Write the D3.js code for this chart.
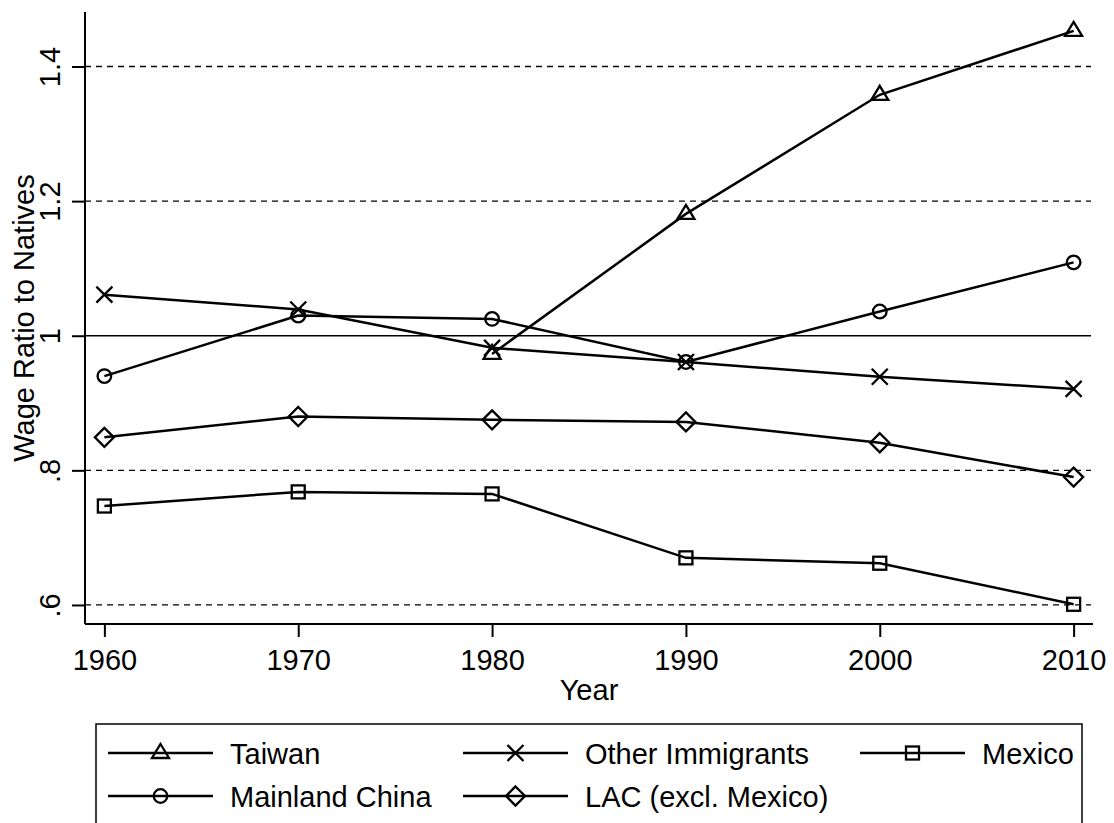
<!DOCTYPE html>
<html><head><meta charset="utf-8">
<script src="https://cdn.jsdelivr.net/npm/d3@7"></script>
<style>body{margin:0;background:#fff}svg{display:block}text{font-family:"Liberation Sans",Arial,sans-serif;fill:#000}</style>
</head><body><svg id="c" width="1114" height="823"></svg>
<script>
const years = [1960, 1970, 1980, 1990, 2000, 2010];
const taiwan = [null, null, 0.973, 1.181, 1.358, 1.453];
const otherImm = [1.061, 1.039, 0.982, 0.961, 0.939, 0.921];
const mexico = [0.747, 0.768, 0.765, 0.670, 0.662, 0.601];
const mainland = [0.940, 1.030, 1.025, 0.961, 1.036, 1.109];
const lac = [0.849, 0.880, 0.875, 0.872, 0.841, 0.790];
const yTicks = [0.6, 0.8, 1.0, 1.2, 1.4];
const yTickLabels = [".6", ".8", "1", "1.2", "1.4"];
const seriesNames = ["Taiwan", "Other Immigrants", "Mexico", "Mainland China", "LAC (excl. Mexico)"];
const seriesValues = [taiwan, otherImm, mexico, mainland, lac];
const seriesMarkers = ["triangle", "x", "square", "circle", "diamond"];

const svg = d3.select("#c");
const L = 85, R = 1093, T = 12, B = 624;
const x = d3.scaleLinear().domain([1959, 2011]).range([L, R]);
const y = d3.scaleLinear().domain([0.5717, 1.481]).range([B, T]);
const FS = 29;

// gridlines
yTicks.forEach(v => {
  svg.append("line").attr("x1", L).attr("x2", R - 2).attr("y1", y(v)).attr("y2", y(v))
    .attr("stroke", "#000").attr("stroke-width", 1.3)
    .attr("stroke-dasharray", v === 1.0 ? null : "6,5");
});

// axes
const yAxis = d3.axisLeft(y).tickValues(yTicks).tickSize(13).tickFormat((d, i) => yTickLabels[i]);
const gy = svg.append("g").attr("transform", `translate(${L},0)`).call(yAxis);
gy.select(".domain").attr("d", `M0,${T}V${B}`).attr("stroke", "#000").attr("stroke-width", 2);
gy.selectAll(".tick line").attr("stroke", "#000").attr("stroke-width", 2);
gy.selectAll(".tick text").attr("font-size", FS).attr("font-family", "Liberation Sans, Arial, sans-serif")
  .attr("text-anchor", "middle").attr("x", null).attr("dy", null)
  .attr("transform", "translate(-25,0) rotate(-90)").attr("y", 0);

const xAxis = d3.axisBottom(x).tickValues(years).tickSize(13).tickFormat(d3.format("d"));
const gx = svg.append("g").attr("transform", `translate(0,${B})`).call(xAxis);
gx.select(".domain").attr("d", `M${L},0H${R}`).attr("stroke", "#000").attr("stroke-width", 2);
gx.selectAll(".tick line").attr("stroke", "#000").attr("stroke-width", 2);
gx.selectAll(".tick text").attr("font-size", FS).attr("font-family", "Liberation Sans, Arial, sans-serif")
  .attr("y", 46).attr("dy", null);

// axis titles
svg.append("text").attr("x", L + (R - L) / 2).attr("y", 700).attr("text-anchor", "middle")
  .attr("font-size", FS).text("Year");
svg.append("text").attr("transform", `translate(34,${(T + B) / 2}) rotate(-90)`)
  .attr("text-anchor", "middle").attr("font-size", FS).text("Wage Ratio to Natives");

// marker drawing
function marker(g, type, cx, cy) {
  const st = {fill: "none", stroke: "#000", "stroke-width": 2.3};
  let el;
  if (type === "triangle") {
    el = g.append("path").attr("d", `M${cx},${cy - 9}L${cx + 8.5},${cy + 5}L${cx - 8.5},${cy + 5}Z`);
  } else if (type === "x") {
    el = g.append("path").attr("d", `M${cx - 8},${cy - 8}L${cx + 8},${cy + 8}M${cx - 8},${cy + 8}L${cx + 8},${cy - 8}`);
  } else if (type === "square") {
    el = g.append("rect").attr("x", cx - 6.5).attr("y", cy - 6.5).attr("width", 13).attr("height", 13);
  } else if (type === "circle") {
    el = g.append("circle").attr("cx", cx).attr("cy", cy).attr("r", 6.8);
  } else {
    el = g.append("path").attr("d", `M${cx},${cy - 9.5}L${cx + 9.5},${cy}L${cx},${cy + 9.5}L${cx - 9.5},${cy}Z`);
  }
  Object.entries(st).forEach(([k, v]) => el.attr(k, v));
}

// series
const line = d3.line().defined(d => d[1] != null).x(d => x(d[0])).y(d => y(d[1]));
seriesValues.forEach((vals, i) => {
  const pts = years.map((yr, j) => [yr, vals[j]]);
  const g = svg.append("g");
  g.append("path").attr("d", line(pts)).attr("fill", "none").attr("stroke", "#000").attr("stroke-width", 2.5);
  pts.filter(p => p[1] != null).forEach(p => marker(g, seriesMarkers[i], x(p[0]), y(p[1])));
});

// legend
const lg = svg.append("g");
lg.append("rect").attr("x", 96).attr("y", 724).attr("width", 1082 - 96).attr("height", 140)
  .attr("fill", "none").attr("stroke", "#000").attr("stroke-width", 1.5);
const colLineX = [108, 463, 860];
const rowY = [753, 796];
seriesNames.forEach((name, i) => {
  const col = i % 3, row = Math.floor(i / 3);
  const lx = colLineX[col], ly = rowY[row];
  lg.append("line").attr("x1", lx).attr("x2", lx + 105).attr("y1", ly).attr("y2", ly)
    .attr("stroke", "#000").attr("stroke-width", 2.3);
  marker(lg, seriesMarkers[i], lx + 52.5, ly);
  lg.append("text").attr("x", lx + 122).attr("y", ly + 10.5).attr("font-size", FS).text(name);
});
</script></body></html>
